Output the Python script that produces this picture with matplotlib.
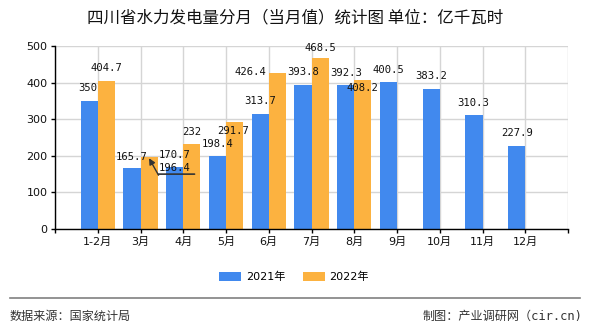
import numpy as np
import matplotlib
matplotlib.use("Agg")
import matplotlib.pyplot as plt
from matplotlib.transforms import offset_copy

plt.rcParams['font.family'] = ['DejaVu Sans', 'Noto Sans CJK SC']

months = ['1-2月', '3月', '4月', '5月', '6月', '7月', '8月', '9月', '10月', '11月', '12月']
val_2021 = [350, 165.7, 170.7, 198.4, 313.7, 393.8, 392.3, 400.5, 383.2, 310.3, 227.9]
val_2022 = [404.7, 196.4, 232, 291.7, 426.4, 468.5, 408.2]
labels_2021 = ['350', '165.7', '170.7', '198.4', '313.7', '393.8', '392.3', '400.5', '383.2', '310.3', '227.9']
labels_2022 = ['404.7', '196.4', '232', '291.7', '426.4', '468.5', '408.2']

# label offsets (pixels) from the bar top, mimicking the original overlap handling
off_2021 = [(-1, 13), (0, 11), (0, 12), (0, 12), (0, 13), (0, 13), (0, 12), (0, 12), (0, 13), (-1, 12), (0, 13)]
off_2022 = [(0, 13), (26, -11), (0, 12), (-1, -9), (-27, 1), (0, 10), (0, -8)]

c2021 = '#4189EE'
c2022 = '#FCB240'

fig = plt.figure(figsize=(5.9, 3.3), dpi=100)
ax = fig.add_axes([55 / 590, 1 - 229 / 330, 513 / 590, 183 / 330])

x = np.arange(len(months))
w = 0.4
ax.bar(x - w / 2, val_2021, w, color=c2021, label='2021年', zorder=2)
x2 = x[:len(val_2022)]
ax.bar(x2 + w / 2, val_2022, w, color=c2022, label='2022年', zorder=2)

mono = dict(family='DejaVu Sans Mono', fontsize=7.6, color='#111111', ha='center', va='center', zorder=4)
for xi, v, s, o in zip(x, val_2021, labels_2021, off_2021):
    ax.annotate(s, (xi - w / 2, v), xytext=o, textcoords='offset pixels', **mono)
for xi, v, s, o in zip(x2, val_2022, labels_2022, off_2022):
    ax.annotate(s, (xi + w / 2, v), xytext=o, textcoords='offset pixels', **mono)

# leader line for the displaced 196.4 label
bx, by = x2[1] + w / 2, val_2022[1]
ax.annotate('', xy=(bx, by - 3), xytext=(9.5, -17), textcoords='offset pixels',
            arrowprops=dict(arrowstyle='-|>', color='#333333', lw=1, shrinkA=0, shrinkB=0,
                            mutation_scale=9), zorder=4)
t1 = offset_copy(ax.transData, fig=fig, x=9.5, y=-17, units='dots')
t2 = offset_copy(ax.transData, fig=fig, x=45.5, y=-17, units='dots')
ax.annotate('', xy=(bx, by), xycoords=t2, xytext=(bx, by), textcoords=t1,
            arrowprops=dict(arrowstyle='-', color='#333333', lw=1.2, shrinkA=0, shrinkB=0), zorder=4)

ax.set_xlim(-1, len(months))
ax.set_ylim(0, 500)
ax.set_yticks(np.arange(0, 501, 100))
ax.set_xticks(np.arange(-1, len(months) + 1))
ax.set_xticklabels([''] + months + [''])
ax.grid(True, color='#D5D5D5', lw=1, zorder=0)
ax.set_axisbelow(True)
for s in ['top', 'right']:
    ax.spines[s].set_visible(False)
for s in ['left', 'bottom']:
    ax.spines[s].set_color('#000000')
    ax.spines[s].set_linewidth(1)
ax.tick_params(axis='both', length=3, width=1, color='#000000', labelsize=8, labelcolor='#111111')
ax.tick_params(axis='x', pad=2.5)
ax.tick_params(axis='y', pad=2.5)

fig.text(295.5 / 590, 1 - 18 / 330, '四川省水力发电量分月（当月值）统计图 单位：亿千瓦时',
         ha='center', va='center', fontsize=11.9, family=['Noto Sans CJK SC', 'DejaVu Sans'], color='#111111')

fig.legend(loc='center', bbox_to_anchor=(294 / 590, 1 - 277 / 330), ncol=2, frameon=False,
           handlelength=2.0, handleheight=0.8, columnspacing=1.6, handletextpad=0.4,
           prop={'family': ['DejaVu Sans', 'Noto Sans CJK SC'], 'size': 8})

fig.add_artist(plt.Line2D([10 / 590, 580 / 590], [1 - 298 / 330] * 2, color='#808080', lw=1.2))
foot = dict(fontsize=8.7, color='#333333', va='center')
fig.text(10 / 590, 1 - 316 / 330, '数据来源：国家统计局', ha='left',
         family=['Noto Sans CJK SC', 'DejaVu Sans'], **foot)
fig.text(582 / 590, 1 - 316 / 330, '制图：产业调研网（cir.cn)', ha='right',
         family=['DejaVu Sans Mono', 'Noto Sans CJK SC'], **foot)

fig.savefig('out.png', dpi=100)
